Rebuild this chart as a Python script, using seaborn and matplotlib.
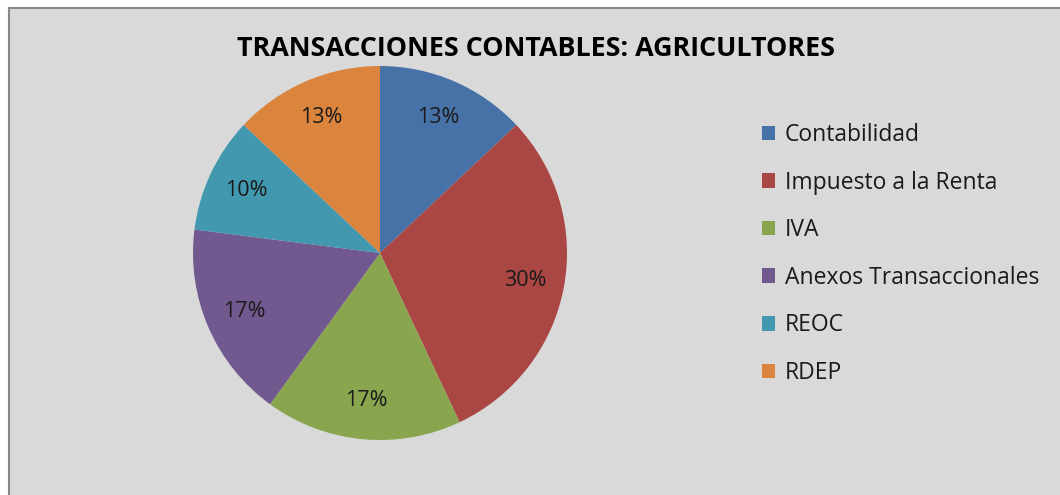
import matplotlib
matplotlib.use("Agg")
import matplotlib.pyplot as plt
from matplotlib.patches import Rectangle, Patch
import seaborn as sns

categories = ["Contabilidad", "Impuesto a la Renta", "IVA",
              "Anexos Transaccionales", "REOC", "RDEP"]
values = [13, 30, 17, 17, 10, 13]
title = "TRANSACCIONES CONTABLES: AGRICULTORES"

sns.set_style("white")
plt.rcParams['font.family'] = ['Open Sans', 'DejaVu Sans']

colors = sns.color_palette(["#4672A8", "#AA4643", "#89A54E",
                            "#71588F", "#4198AF", "#DB843D"])

W, H = 1060, 495
fig = plt.figure(figsize=(W / 100, H / 100), dpi=100, facecolor="white")

# chart area background with border
fig.patches.append(Rectangle((9 / W, -0.1), 1.2, 1 - 7.5 / H + 0.1,
                             transform=fig.transFigure, facecolor="#D9D9D9",
                             edgecolor="#888888", linewidth=1.5, zorder=-5))

cx, cy, r = 380, 253, 187
ax = fig.add_axes([(cx - r) / W, (H - cy - r) / H, 2 * r / W, 2 * r / H])
ax.set_zorder(2)
ax.set_facecolor("none")
wedges, texts, autotexts = ax.pie(
    values, colors=colors, startangle=90, counterclock=False,
    autopct=lambda p: f"{p:.0f}%", pctdistance=0.79,
    radius=1.0, wedgeprops=dict(linewidth=0),
    textprops=dict(fontsize=15.5, color="#1a1a1a"))
ax.set_xlim(-1, 1)
ax.set_ylim(-1, 1)
ax.set_aspect("equal")
ax.axis("off")

fig.text(536 / W, 1 - 49 / H, title, ha="center", va="center",
         fontsize=19.4, fontweight="bold", color="black", zorder=3)

handles = [Patch(facecolor=c, edgecolor="none") for c in colors]
leg = fig.legend(handles, categories, loc="center left",
                 bbox_to_anchor=(741 / W, 1 - 254 / H), frameon=False,
                 fontsize=16.5, handlelength=0.6, handleheight=0.6,
                 handletextpad=0.4, labelspacing=1.03, labelcolor="#1a1a1a")
leg.set_zorder(3)

fig.savefig("out.png", dpi=100, facecolor="white")
